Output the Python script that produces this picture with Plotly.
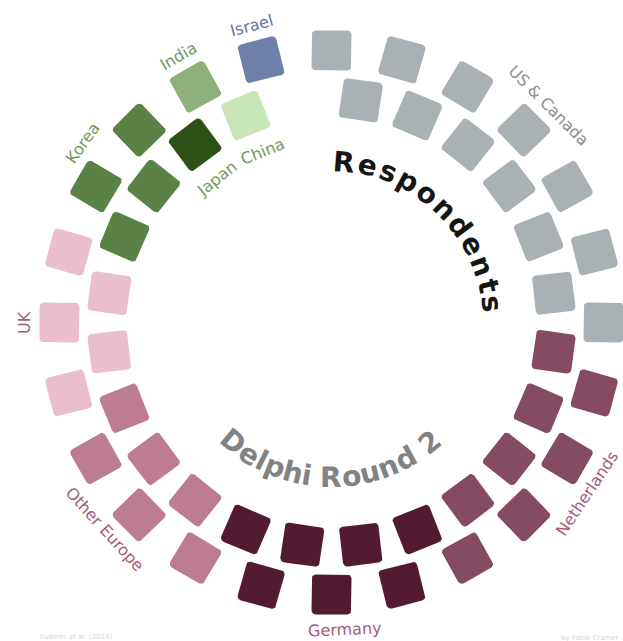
import math
import plotly.graph_objects as go

# ---------------- data ----------------
countries = ["US & Canada", "Netherlands", "Germany", "Other Europe", "UK",
             "Korea", "Japan", "India", "China", "Israel"]
counts = [13, 8, 7, 6, 5, 4, 1, 1, 1, 1]
square_colors = ["#aab1b4", "#844b62", "#521b32", "#bc7c91", "#ebbecd",
                 "#5a8146", "#2c5117", "#8eb07a", "#c8e5b7", "#6c80aa"]
label_colors = ["#8c8c8c", "#a35a7c", "#a35a7c", "#a35a7c", "#a35a7c",
                "#6e9b5a", "#6e9b5a", "#6e9b5a", "#6e9b5a", "#5b73a5"]
title_outer = "Respondents"
title_inner = "Delphi Round 2"
source_text = "Fuderer et al. (2024)"
credit_text = "by Fabio Cramer"

# ---------------- layout constants ----------------
W, H = 623, 641
CX, CY = 331.5, 322.5          # circle centre in pixels
N_SLOTS = 48
STEP = 360.0 / N_SLOTS
R_OUT, R_IN = 272, 224
SIDE, CORNER = 40, 4.5
LABEL_R_OUT, LABEL_R_IN = 307, 184
# small angular nudges of labels (degrees)
LABEL_NUDGE = {"Germany": -2.5, "Other Europe": -1.2, "Korea": 2.0, "Japan": -1.0, "China": 0.5}

# approx DejaVu Sans Bold advance widths (em)
ADV = {"R": .770, "e": .678, "s": .595, "p": .716, "o": .687, "n": .712, "d": .716,
       "t": .478, "D": .830, "l": .343, "h": .712, "i": .343, " ": .348, "u": .712,
       "2": .696}


def polar(r, theta):
    t = math.radians(theta)
    return r * math.sin(t), r * math.cos(t)


def rounded_square(cx, cy, theta):
    h = SIDE / 2.0
    c = CORNER
    pts = []
    corners = [(h - c, h - c, 0), (h - c, -(h - c), -90), (-(h - c), -(h - c), -180), (-(h - c), h - c, -270)]
    for (ox, oy, start) in corners:
        for k in range(7):
            a = math.radians(90 + start - k * 15)
            pts.append((ox + c * math.cos(a), oy + c * math.sin(a)))
    t = math.radians(theta)
    out = []
    for (x, y) in pts:
        xr = x * math.cos(t) + y * math.sin(t)
        yr = -x * math.sin(t) + y * math.cos(t)
        out.append((cx + xr, cy + yr))
    out.append(out[0])
    return out


fig = go.Figure()
annotations = []

slot = 0
for name, n, col, lcol in zip(countries, counts, square_colors, label_colors):
    xs, ys = [], []
    angles = []
    has_outer = False
    for k in range(n):
        theta = slot * STEP
        r = R_OUT if slot % 2 == 0 else R_IN
        if slot % 2 == 0:
            has_outer = True
        px, py = polar(r, theta)
        for (qx, qy) in rounded_square(px, py, theta):
            xs.append(qx)
            ys.append(qy)
        xs.append(None)
        ys.append(None)
        angles.append(theta)
        slot += 1
    fig.add_trace(go.Scatter(x=xs, y=ys, mode="lines", fill="toself", fillcolor=col,
                             line=dict(width=0, color=col), name=name,
                             hoverinfo="name", showlegend=False))
    a = sum(angles) / len(angles) + LABEL_NUDGE.get(name, 0.0)
    lr = LABEL_R_OUT if has_outer else LABEL_R_IN
    lx, ly = polar(lr, a)
    if 90 < a < 270:
        rot = a - 180
    elif a > 270:
        rot = a - 360
    else:
        rot = a
    annotations.append(dict(x=lx, y=ly, xref="x", yref="y", text=name, showarrow=False,
                            textangle=rot, xanchor="center", yanchor="middle",
                            font=dict(family="DejaVu Sans", size=16, color=lcol)))


def arc_text(text, radius, mid_angle, size, spacing, color, top):
    advs = [ADV.get(ch, 0.6) * size for ch in text]
    total = sum(advs) + spacing * (len(text) - 1)
    pos = 0.0
    for ch, adv in zip(text, advs):
        centre = pos + adv / 2 - total / 2
        pos += adv + spacing
        if ch == " ":
            continue
        d = math.degrees(centre / radius)
        theta = mid_angle + d if top else mid_angle - d
        x, y = polar(radius, theta)
        rot = theta if top else theta - 180
        annotations.append(dict(x=x, y=y, xref="x", yref="y", text=ch, showarrow=False,
                                textangle=rot, xanchor="center", yanchor="middle",
                                font=dict(family="DejaVu Sans", size=size, color=color,
                                          weight="bold")))


arc_text(title_outer, 161, 43.5, 28, 3.5, "#151515", True)
arc_text(title_inner, 155, 180.5, 28, -0.5, "#828282", False)

annotations.append(dict(x=38 / W, y=1 - 636.5 / H, xref="paper", yref="paper", text=source_text,
                        showarrow=False, xanchor="left", yanchor="middle",
                        font=dict(family="DejaVu Sans", size=7, color="#d4d4d4")))
annotations.append(dict(x=621 / W, y=1 - 637.5 / H, xref="paper", yref="paper", text=credit_text,
                        showarrow=False, xanchor="right", yanchor="middle",
                        font=dict(family="DejaVu Sans", size=7, color="#d4d4d4")))

fig.update_layout(
    width=W, height=H,
    margin=dict(l=0, r=0, t=0, b=0),
    paper_bgcolor="white", plot_bgcolor="white",
    xaxis=dict(range=[-CX, W - CX], visible=False, fixedrange=True),
    yaxis=dict(range=[-(H - CY), CY], visible=False, fixedrange=True),
    annotations=annotations,
    showlegend=False,
)

fig.write_html("out.html", config={"displayModeBar": False},
               post_script="document.body.style.margin='0';document.body.style.overflow='hidden';")
